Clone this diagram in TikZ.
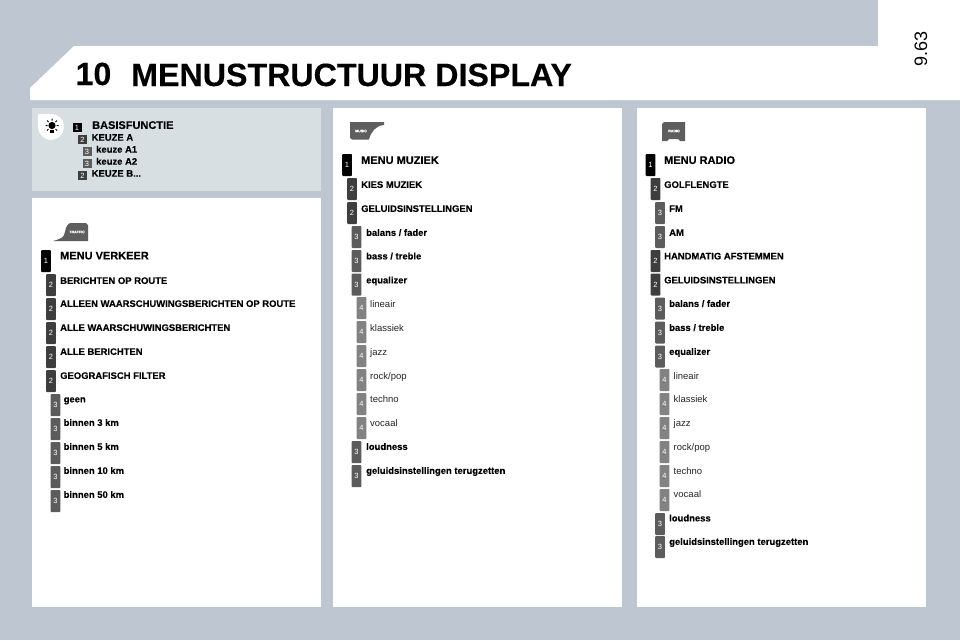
\documentclass[tikz,border=0pt]{standalone}
\usepackage{fontspec}
\setmainfont[BoldFeatures={FakeBold=0.25}]{Liberation Sans}
\usetikzlibrary{positioning}
\definecolor{pagegrey}{HTML}{BEC7D1}
\definecolor{basisgrey}{HTML}{D8DFE3}
\definecolor{levelb}{HTML}{3E3E3E}
\definecolor{levelc}{HTML}{5C5C5C}
\definecolor{leveld}{HTML}{828282}
\definecolor{icongrey}{HTML}{5E5E5E}

\begin{document}
\begin{tikzpicture}[
    x=1pt, y=-1pt,
    badge/.style={
        rectangle, rounded corners=0.8pt, inner sep=0pt,
        minimum width=9.6pt, minimum height=22pt,
        text=white, font=\fontsize{7.5}{8}\selectfont
    },
    smallbadge/.style={badge, rounded corners=0pt, minimum width=9pt, minimum height=9pt},
    levela/.style={fill=black},
    levelab/.style={fill=levelb},
    levelac/.style={fill=levelc},
    levelad/.style={fill=leveld},
    headtext/.style={anchor=base west, inner sep=0pt, yshift=0.6pt, font=\fontsize{11}{12}\selectfont\bfseries},
    itemtext/.style={anchor=base west, inner sep=0pt, yshift=0.6pt, font=\fontsize{9.45}{10}\selectfont\bfseries},
    plaintext/.style={anchor=base west, inner sep=0pt, yshift=0.3pt, text=black!85, font=\fontsize{9.5}{10}\selectfont},
    icontext/.style={inner sep=0pt, text=white, font=\fontsize{3.6}{4}\selectfont\bfseries}
]
\useasboundingbox (0, 0) rectangle (960, 640);

% Page background
\fill[pagegrey] (0, 0) rectangle (960, 640);
\fill[white] (878, 0) rectangle (960, 100);
\fill[white] (30, 100) -- (30, 88) -- (74, 46) -- (960, 46) -- (960, 100) -- cycle;

% Title
\node[anchor=base west, inner sep=0pt, font=\fontsize{32}{36}\selectfont\bfseries] (chapter) at (75.5, 85) {10};
\node[anchor=base west, inner sep=0pt, font=\fontsize{32.2}{36}\selectfont\bfseries] (title) at (131, 86) {MENUSTRUCTUUR DISPLAY};
\node[rotate=90, inner sep=0pt, font=\fontsize{18}{20}\selectfont] (pagenr) at (921, 49) {9.63};

% Panels
\fill[basisgrey] (32, 108) rectangle (321, 191);
\fill[white] (32, 198) rectangle (321, 607);
\fill[white] (333, 108) rectangle (622, 607);
\fill[white] (637, 108) rectangle (926, 607);

% Basis panel - Sun icon
\fill[white] (38, 115) -- (39, 114) -- (51, 114) .. controls (59, 114) and (64, 120) .. (64, 127)
    .. controls (64, 134) and (58, 140) .. (51, 140) .. controls (44, 140) and (38, 134) .. (38, 127) -- cycle;
\fill[black] (52, 125.5) circle (3.6);
\fill[black] (50.4, 130) rectangle (53.6, 133);
\draw[black, line width=1pt] (52, 118.5) -- (52, 120.5) (45.5, 125.5) -- (47.5, 125.5) (56.5, 125.5) -- (58.5, 125.5)
    (47, 120.5) -- (48.5, 122) (57, 120.5) -- (55.5, 122) (47, 130.5) -- (48.5, 129) (57, 130.5) -- (55.5, 129);

% Basis panel - Entries
\node[smallbadge, levela] (basisa) at (77, 127.5) {1};
\node[headtext] (basisatext) at (92, 129.5) {BASISFUNCTIE};
\node[smallbadge, levelab] (basisb) at (82.5, 139.5) {2};
\node[itemtext] (basisbtext) at (91.5, 141.3) {KEUZE A};
\node[smallbadge, levelac] (basisc) at (87, 151.5) {3};
\node[itemtext] (basisctext) at (96, 153.3) {keuze A1};
\node[smallbadge, levelac] (basisd) at (87, 163.5) {3};
\node[itemtext] (basisdtext) at (96, 165.3) {keuze A2};
\node[smallbadge, levelab] (basise) at (82.5, 175.5) {2};
\node[itemtext] (basisetext) at (91.5, 177.3) {KEUZE B...};

% Traffic panel - Icon
\fill[icongrey] (53, 241) .. controls (60, 239) and (64, 238) .. (65, 232) .. controls (66, 226) and (68, 223) .. (71, 223)
    -- (86, 223) -- (88, 225) -- (88, 241) -- cycle;
\node[icontext] (trafficicon) at (77, 232) {TRAFFIC};

% Traffic panel - Entries
\node[badge, levela] (traffica) at (46, 261) {1};
\node[headtext] (trafficatext) at (60, 260) {MENU VERKEER};
\node[badge, levelab] (trafficb) at (51, 285) {2};
\node[itemtext] (trafficbtext) at (60, 284.5) {BERICHTEN OP ROUTE};
\node[badge, levelab] (trafficc) at (51, 309) {2};
\node[itemtext] (trafficctext) at (60, 307.5) {ALLEEN WAARSCHUWINGSBERICHTEN OP ROUTE};
\node[badge, levelab] (trafficd) at (51, 333) {2};
\node[itemtext] (trafficdtext) at (60, 331.5) {ALLE WAARSCHUWINGSBERICHTEN};
\node[badge, levelab] (traffice) at (51, 357) {2};
\node[itemtext] (trafficetext) at (60, 355.5) {ALLE BERICHTEN};
\node[badge, levelab] (trafficf) at (51, 381) {2};
\node[itemtext] (trafficftext) at (60, 379.5) {GEOGRAFISCH FILTER};
\node[badge, levelac] (trafficg) at (55.5, 405) {3};
\node[itemtext] (trafficgtext) at (63.5, 403) {geen};
\node[badge, levelac] (traffich) at (55.5, 429) {3};
\node[itemtext] (traffichtext) at (63.5, 426.5) {binnen 3 km};
\node[badge, levelac] (traffici) at (55.5, 453) {3};
\node[itemtext] (trafficitext) at (63.5, 450.5) {binnen 5 km};
\node[badge, levelac] (trafficj) at (55.5, 477) {3};
\node[itemtext] (trafficjtext) at (63.5, 474.5) {binnen 10 km};
\node[badge, levelac] (traffick) at (55.5, 501) {3};
\node[itemtext] (traffickext) at (63.5, 498.5) {binnen 50 km};

% Music panel - Icon
\fill[icongrey] (350, 122) -- (384, 122) -- (384, 125) .. controls (375, 126) and (371, 132) .. (369, 139.5) -- (352, 139.5) -- (350, 138) -- cycle;
\node[icontext] (musicicon) at (361, 131) {MUSIC};

% Music panel - Entries
\node[badge, levela] (musica) at (347, 165) {1};
\node[headtext] (musicatext) at (361, 164.5) {MENU MUZIEK};
\node[badge, levelab] (musicb) at (352, 189) {2};
\node[itemtext] (musicbtext) at (361, 188.5) {KIES MUZIEK};
\node[badge, levelab] (musicc) at (352, 213) {2};
\node[itemtext] (musicctext) at (361, 212.5) {GELUIDSINSTELLINGEN};
\node[badge, levelac] (musicd) at (356.5, 237) {3};
\node[itemtext] (musicdtext) at (366, 236.5) {balans / fader};
\node[badge, levelac] (musice) at (356.5, 261) {3};
\node[itemtext] (musicetext) at (366, 260) {bass / treble};
\node[badge, levelac] (musicf) at (356.5, 284.5) {3};
\node[itemtext] (musicftext) at (366, 284) {equalizer};
\node[badge, levelad] (musicg) at (361.5, 308) {4};
\node[plaintext] (musicgtext) at (370, 307.5) {lineair};
\node[badge, levelad] (musich) at (361.5, 332) {4};
\node[plaintext] (musichtext) at (370, 331.5) {klassiek};
\node[badge, levelad] (musici) at (361.5, 356) {4};
\node[plaintext] (musicitext) at (370, 355.5) {jazz};
\node[badge, levelad] (musicj) at (361.5, 380) {4};
\node[plaintext] (musicjtext) at (370, 379.5) {rock/pop};
\node[badge, levelad] (musick) at (361.5, 404) {4};
\node[plaintext] (musicktext) at (370, 403) {techno};
\node[badge, levelad] (musicl) at (361.5, 428) {4};
\node[plaintext] (musicltext) at (370, 426.5) {vocaal};
\node[badge, levelac] (musicm) at (356.5, 452) {3};
\node[itemtext] (musicmtext) at (366, 450.5) {loudness};
\node[badge, levelac] (musicn) at (356.5, 476) {3};
\node[itemtext] (musicntext) at (366, 474.5) {geluidsinstellingen terugzetten};

% Radio panel - Icon
\fill[icongrey] (664, 122) -- (685, 122) -- (685, 141) -- (680, 141) -- (678, 139) -- (669, 139) -- (667, 141) -- (662, 141) -- (662, 124) -- cycle;
\node[icontext] (radioicon) at (674, 131) {RADIO};

% Radio panel - Entries
\node[badge, levela] (radioa) at (650.5, 165) {1};
\node[headtext] (radioatext) at (664, 164.5) {MENU RADIO};
\node[badge, levelab] (radiob) at (655.5, 189) {2};
\node[itemtext] (radiobtext) at (664, 188.5) {GOLFLENGTE};
\node[badge, levelac] (radioc) at (660, 213) {3};
\node[itemtext] (radioctext) at (669, 212.5) {FM};
\node[badge, levelac] (radiod) at (660, 237) {3};
\node[itemtext] (radiodtext) at (669, 236.5) {AM};
\node[badge, levelab] (radioe) at (655.5, 261) {2};
\node[itemtext] (radioetext) at (664, 260) {HANDMATIG AFSTEMMEN};
\node[badge, levelab] (radiof) at (655.5, 284.5) {2};
\node[itemtext] (radioftext) at (664, 284) {GELUIDSINSTELLINGEN};
\node[badge, levelac] (radiog) at (660, 308.5) {3};
\node[itemtext] (radiogtext) at (669, 307.5) {balans / fader};
\node[badge, levelac] (radioh) at (660, 332.5) {3};
\node[itemtext] (radiohtext) at (669, 331.5) {bass / treble};
\node[badge, levelac] (radioi) at (660, 356.5) {3};
\node[itemtext] (radioitext) at (669, 355.5) {equalizer};
\node[badge, levelad] (radioj) at (664.5, 380) {4};
\node[plaintext] (radiojtext) at (673.5, 379.5) {lineair};
\node[badge, levelad] (radiok) at (664.5, 404) {4};
\node[plaintext] (radioktext) at (673.5, 403) {klassiek};
\node[badge, levelad] (radiol) at (664.5, 428) {4};
\node[plaintext] (radioltext) at (673.5, 426.5) {jazz};
\node[badge, levelad] (radiom) at (664.5, 452) {4};
\node[plaintext] (radiomtext) at (673.5, 450.5) {rock/pop};
\node[badge, levelad] (radion) at (664.5, 476) {4};
\node[plaintext] (radiontext) at (673.5, 474.5) {techno};
\node[badge, levelad] (radioo) at (664.5, 500) {4};
\node[plaintext] (radiootext) at (673.5, 498) {vocaal};
\node[badge, levelac] (radiop) at (660, 524) {3};
\node[itemtext] (radioptext) at (669, 522) {loudness};
\node[badge, levelac] (radioq) at (660, 547) {3};
\node[itemtext] (radioqtext) at (669, 545.5) {geluidsinstellingen terugzetten};

\end{tikzpicture}
\end{document}
